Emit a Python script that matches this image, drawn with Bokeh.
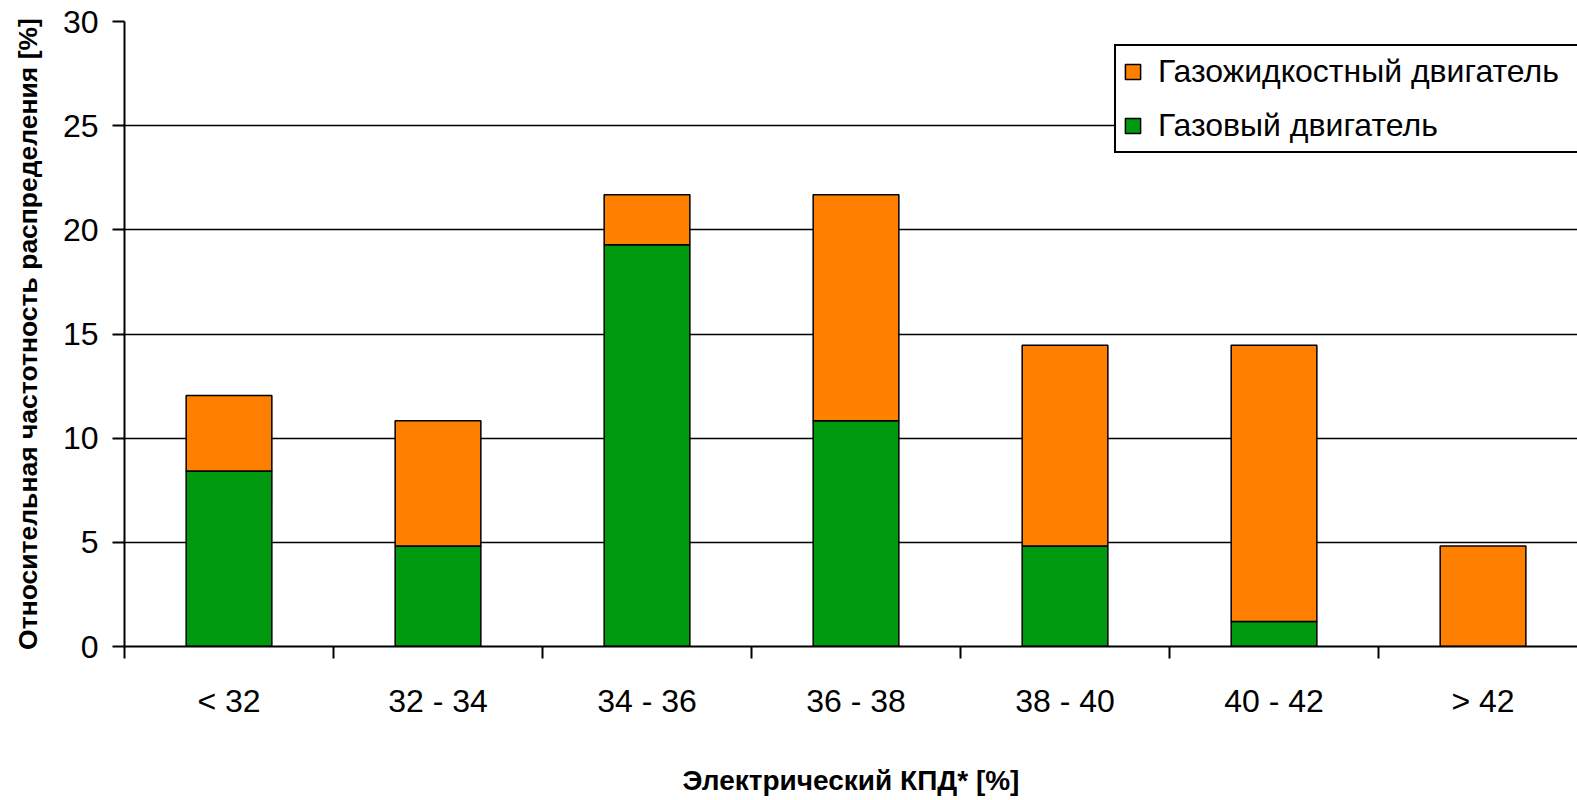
from bokeh.plotting import figure
from bokeh.models import FixedTicker, Range1d, Legend, LegendItem, ColumnDataSource
from bokeh.embed import file_html
from bokeh.resources import INLINE

categories = ["< 32", "32 - 34", "34 - 36", "36 - 38", "38 - 40", "40 - 42", "> 42"]
gas_engine = [8.43, 4.82, 19.28, 10.84, 4.82, 1.20, 0.0]          # Газовый двигатель
gas_liquid_engine = [3.62, 6.02, 2.41, 10.85, 9.64, 13.26, 4.82]  # Газожидкостный двигатель
y_ticks = [0, 5, 10, 15, 20, 25, 30]

ORANGE = "#FF8000"
GREEN = "#009A10"
FONT = "Liberation Sans"

xs = [i + 0.5 for i in range(len(categories))]
src = ColumnDataSource(dict(x=xs, cat=categories, gas=gas_engine, liq=gas_liquid_engine))

p = figure(width=1577, height=798, output_backend="svg", toolbar_location=None,
           x_range=Range1d(0, 6.952), y_range=Range1d(0, 30),
           min_border_left=124, min_border_right=0, min_border_top=21, min_border_bottom=0)

r = p.vbar_stack(["gas", "liq"], x="x", width=0.41, source=src,
                 fill_color=[GREEN, ORANGE], line_color="black", line_width=1.5)

p.outline_line_color = None
p.background_fill_color = "white"
p.border_fill_color = "white"

# grid
p.xgrid.grid_line_color = None
p.ygrid.grid_line_color = "black"
p.ygrid.grid_line_width = 1.5
p.ygrid.ticker = FixedTicker(ticks=y_ticks)

# y axis
p.yaxis.ticker = FixedTicker(ticks=y_ticks)
p.yaxis.axis_line_width = 2
p.yaxis.major_tick_out = 12
p.yaxis.major_tick_in = 0
p.yaxis.major_tick_line_width = 2
p.yaxis.minor_tick_line_color = None
p.yaxis.major_label_standoff = 14
p.yaxis.major_label_text_font = FONT
p.yaxis.major_label_text_font_size = "32px"
p.yaxis.major_label_text_color = "black"
p.yaxis.axis_label = "Относительная частотность распределения [%]"
p.yaxis.axis_label_text_font = FONT
p.yaxis.axis_label_text_font_style = "bold"
p.yaxis.axis_label_text_font_size = "26.5px"
p.yaxis.axis_label_text_color = "black"
p.yaxis.axis_label_standoff = 17

# x axis: labels at centers, ticks at boundaries (minor ticks)
p.xaxis.ticker = FixedTicker(ticks=xs, minor_ticks=list(range(len(categories) + 1)))
p.xaxis.major_label_overrides = {x: c for x, c in zip(xs, categories)}
p.xaxis.axis_line_width = 2
p.xaxis.major_tick_out = 0
p.xaxis.major_tick_in = 0
p.xaxis.minor_tick_out = 12
p.xaxis.minor_tick_in = 0
p.xaxis.minor_tick_line_width = 2
p.xaxis.minor_tick_line_color = "black"
p.xaxis.major_label_standoff = 24
p.xaxis.major_label_text_font = FONT
p.xaxis.major_label_text_font_size = "32px"
p.xaxis.major_label_text_color = "black"
p.xaxis.axis_label = "Электрический КПД* [%]"
p.xaxis.axis_label_text_font = FONT
p.xaxis.axis_label_text_font_style = "bold"
p.xaxis.axis_label_text_font_size = "28px"
p.xaxis.axis_label_text_color = "black"
p.xaxis.axis_label_standoff = 43

legend = Legend(items=[LegendItem(label="Газожидкостный двигатель", renderers=[r[1]]),
                       LegendItem(label="Газовый двигатель", renderers=[r[0]])],
                location=(990, 493))
legend.border_line_color = "black"
legend.border_line_width = 2
legend.border_line_alpha = 1
legend.background_fill_color = "white"
legend.background_fill_alpha = 1
legend.label_text_font = FONT
legend.label_text_font_size = "32px"
legend.label_text_color = "black"
legend.glyph_width = 19
legend.glyph_height = 19
legend.label_standoff = 16
legend.label_width = 412
legend.spacing = 17
legend.padding = 7
legend.margin = 0
p.add_layout(legend, "center")

open("out.html", "w").write(file_html(p, INLINE))
